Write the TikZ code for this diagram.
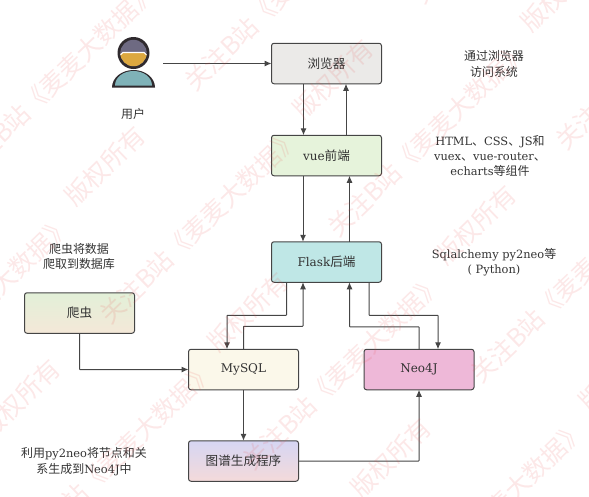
\documentclass[tikz,border=0pt]{standalone}
\usepackage{fontspec}
\usetikzlibrary{arrows.meta,calc}
\setmainfont{DejaVu Serif}
\newfontfamily\cjk[Scale=1.05]{Noto Sans CJK SC}
\newfontfamily\cjkwm{Noto Sans CJK SC}
\newcommand{\zh}[1]{{\cjk #1}}
\definecolor{ln}{HTML}{454545}
\definecolor{txt}{HTML}{333333}
\definecolor{wmc}{HTML}{E84A4A}
\definecolor{cbrowser}{HTML}{EBEAE8}
\definecolor{cvue}{HTML}{E6F3DB}
\definecolor{cflask}{HTML}{BFE7E6}
\definecolor{cspa}{HTML}{E2F0D8}
\definecolor{cspb}{HTML}{F4E8D8}
\definecolor{cmysql}{HTML}{FBF8EA}
\definecolor{cneo}{HTML}{EEB8D8}
\definecolor{cgena}{HTML}{D6D6F3}
\definecolor{cgenb}{HTML}{F4DADA}
\definecolor{uline}{HTML}{2F2A2E}
\definecolor{ucap}{HTML}{6E6A82}
\definecolor{uface}{HTML}{DCA840}
\definecolor{ubody}{HTML}{7FB2B8}
\tikzset{
  box/.style={draw=ln,line width=1pt,rounded corners=2.5pt,minimum width=110pt,minimum height=40.5pt,inner sep=0pt,outer sep=0pt,text=txt,font=\fontsize{12}{15}\selectfont},
  conn/.style={draw=ln,line width=1pt,-{Latex[length=7pt,width=6pt]},rounded corners=0.5pt},
  note/.style={text=txt,align=center,inner sep=0pt,font=\fontsize{11.4}{15.3}\selectfont},
  wm/.style={text=wmc,text opacity=0.13,inner sep=0pt,anchor=west,rotate=44,font=\cjkwm\fontsize{25}{25}\selectfont}
}
\begin{document}
\begin{tikzpicture}[x=1pt,y=-1pt]
\useasboundingbox (0,0) rectangle (589,496);
% boxes
\node[box,fill=cbrowser] (browser) at (326.5,63.5) {\zh{浏览器}};
\node[box,fill=cvue] (vue) at (326.5,155.5) {vue\zh{前端}};
\node[box,fill=cflask] (flask) at (326.5,262) {Flask\zh{后端}};
\node[box,top color=cspa,bottom color=cspb] (spider) at (79.5,313) {\zh{爬虫}};
\node[box,fill=cmysql] (mysql) at (243.5,369.5) {MySQL};
\node[box,fill=cneo] (neo) at (419,369.5) {Neo4J};
\node[box,top color=cgena,bottom color=cgenb] (gen) at (243.5,461) {\zh{图谱生成程序}};
% user icon
\coordinate (user) at (163,63.5);
\begin{scope}
  \fill[uline] (133.5,53) circle (16);
  \begin{scope}
    \clip (133.5,53) circle (13.2);
    \fill[ucap] (118,38) rectangle (150,70);
    \fill[uface] (118,55) -- (122,53) -- (145,53) -- (149,56) -- (149,70) -- (118,70) -- cycle;
    \draw[white,line width=1.1pt] (119,56) -- (123,52.5) -- (144,52.5) -- (148,56);
  \end{scope}
  \fill[uline] (112,87.5) arc[start angle=180,end angle=360,x radius=21.5,y radius=17.5] -- cycle;
  \fill[ubody] (115,85.5) arc[start angle=180,end angle=360,x radius=18.5,y radius=14.5] -- cycle;
\end{scope}
% connectors
\draw[conn] (user) -- (browser.west);
\draw[conn] ([xshift=-23pt]browser.south) -- ([xshift=-23pt]vue.north);
\draw[conn] ([xshift=19.5pt]vue.north) -- ([xshift=19.5pt]browser.south);
\draw[conn] ([xshift=-23.5pt]vue.south) -- ([xshift=-23.5pt]flask.north);
\draw[conn] ([xshift=23pt]flask.north) -- ([xshift=23pt]vue.south);
\draw[conn] ([xshift=-40pt]flask.south) -- ++(0,33) -| ([xshift=-16.5pt]mysql.north);
\draw[conn] (mysql.north) -- ++(0,-23) -| ([xshift=-23.5pt]flask.south);
\draw[conn] ([xshift=42.5pt]flask.south) -- ++(0,33) -| ([xshift=19pt]neo.north);
\draw[conn] (neo.north) -- ++(0,-22.5) -| ([xshift=23pt]flask.south);
\draw[conn] (spider.south) |- (mysql.west);
\draw[conn] (mysql.south) -- (gen.north);
\draw[conn] (gen.east) -| (neo.south);
% notes
\node[note] (nuser) at (133,114) {\zh{用户}};
\node[note] (nbrowser) at (494,64) {\zh{通过浏览器}\\\zh{访问系统}};
\node[note] (nvue) at (490,156) {HTML\zh{、}CSS\zh{、}JS\zh{和}\\vuex\zh{、}vue-router\zh{、}\\echarts\zh{等组件}};
\node[note] (nflask) at (494,262) {Sqlalchemy py2neo\zh{等}\\( Python)};
\node[note] (nspider) at (79,256.5) {\zh{爬虫将数据}\\\zh{爬取到数据库}};
\node[note] (ngen) at (84,461.5) {\zh{利用}py2neo\zh{将节点和关}\\\zh{系生成到}Neo4J\zh{中}};
% watermark
\begin{scope}
\clip (0,0) rectangle (589,496);
\foreach \m in {-2,...,7}{
  \foreach \n in {-4,...,3}{
    \pgfmathsetmacro{\wx}{78+228*\m+313*\n-9}
    \pgfmathsetmacro{\wy}{192-87*\m-320*\n+9}
    \pgfmathtruncatemacro{\show}{(\wx>-500)&&(\wx<620)&&(\wy>-60)&&(\wy<820)?1:0}
    \ifnum\show=1
      \node[wm] (wm\m n\n) at (\wx,\wy) {版权所有\hspace{66pt}关注B站《麦麦大数据》};
    \fi
  }
}
\end{scope}
\end{tikzpicture}
\end{document}
